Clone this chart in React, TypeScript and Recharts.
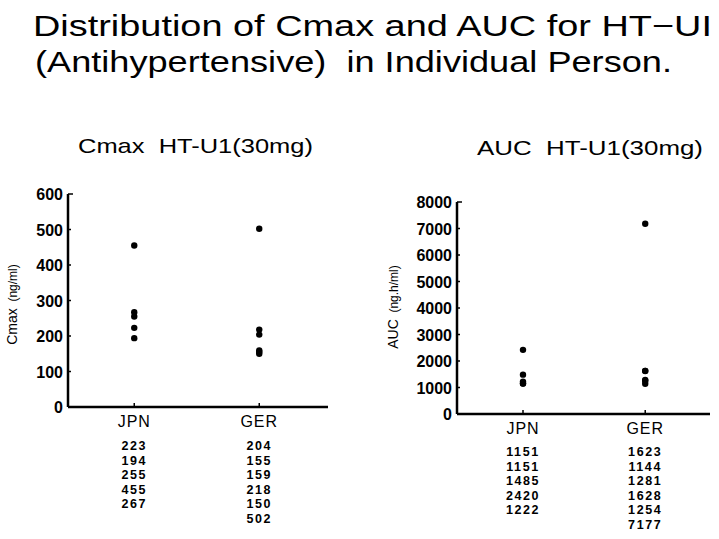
import React from "react"
import { ScatterChart, Scatter, XAxis, YAxis, Label } from "recharts"

const groups = ["JPN", "GER"]

const cmaxJPN = [223, 194, 255, 455, 267]
const cmaxGER = [204, 155, 159, 218, 150, 502]
const aucJPN = [1151, 1151, 1485, 2420, 1222]
const aucGER = [1623, 1144, 1281, 1628, 1254, 7177]

const cmaxTicks = [0, 100, 200, 300, 400, 500, 600]
const aucTicks = [0, 1000, 2000, 3000, 4000, 5000, 6000, 7000, 8000]

const titleLines = [
	"Distribution of Cmax and AUC for HT\u2212UI",
	"(Antihypertensive)  in Individual Person.",
]

const FONT = "'Liberation Sans', Arial, sans-serif"

const toPoints = (lists: number[][]) =>
	lists.flatMap((vals, g) => vals.map((v) => ({ g, v })))

// category name plus the listed values under it
const makeXTick = (lists: number[][], firstRow: number) => (props: any) => {
	const { x, y, payload } = props
	const g = payload.value
	if (g !== 0 && g !== 1) return null
	return (
		<g>
			<line x1={x} x2={x} y1={y - 4} y2={y} stroke='#000' strokeWidth={1.5} />
			<text
				x={x}
				y={y + 20}
				textAnchor='middle'
				fontSize={16}
				letterSpacing={1}
				fontFamily={FONT}
				fill='#000'>
				{groups[g]}
			</text>
			{lists[g].map((v, i) => (
				<text
					key={i}
					x={x}
					y={y + firstRow + i * 14.6}
					textAnchor='middle'
					fontSize={12.5}
					fontWeight='bold'
					letterSpacing={1.6}
					fontFamily={FONT}
					fill='#000'>
					{v}
				</text>
			))}
		</g>
	)
}

const makeYTick = (max: number) => (props: any) => {
	const { x, y, payload } = props
	return (
		<g>
			<line
				x1={x + 5}
				x2={x + (payload.value === max ? 10 : 8)}
				y1={y}
				y2={y}
				stroke='#000'
				strokeWidth={1.5}
			/>
			<text
				x={x}
				y={y + 6}
				textAnchor='end'
				fontSize={16}
				fontWeight='bold'
				fontFamily={FONT}
				fill='#000'>
				{payload.value}
			</text>
		</g>
	)
}

const makeYLabel = (main: string, unit: string, dx: number, dy: number) => (props: any) => {
	const { viewBox } = props
	const cx = viewBox.x + dx
	const cy = viewBox.y + viewBox.height / 2 + dy
	return (
		<text
			x={cx}
			y={cy}
			transform={`rotate(-90 ${cx} ${cy})`}
			textAnchor='middle'
			fontFamily={FONT}
			style={{ whiteSpace: "pre" }}
			fill='#000'>
			<tspan fontSize={14}>{main}</tspan>
			<tspan fontSize={12}>{"  " + unit}</tspan>
		</text>
	)
}

const dot = (p: any) => <circle cx={p.cx} cy={p.cy} r={3.2} fill='#000' />

const axisLine = { stroke: "#000", strokeWidth: 2.5 }

const App = () => {
	return (
		<div
			style={{
				position: "fixed",
				left: 0,
				top: 0,
				width: 719,
				height: 539,
				background: "#fff",
			}}>
			<div style={{ position: "absolute", left: 0, top: 0 }}>
				<ScatterChart
					width={340}
					height={539}
					margin={{ top: 194, right: 12, bottom: 0, left: 0 }}>
					<XAxis
						type='number'
						dataKey='g'
						domain={[-0.53, 1.55]}
						ticks={[0, 1]}
						height={132}
						axisLine={axisLine}
						tickLine={false}
						tickSize={0}
						tickMargin={0}
						tick={makeXTick([cmaxJPN, cmaxGER], 43)}
					/>
					<YAxis
						type='number'
						dataKey='v'
						domain={[0, 600]}
						ticks={cmaxTicks}
						width={68}
						axisLine={axisLine}
						tickLine={false}
						tickSize={0}
						tickMargin={5}
						tick={makeYTick(600)}>
						<Label content={makeYLabel("Cmax", "(ng/ml)", 17, 4)} />
					</YAxis>
					<Scatter
						data={toPoints([cmaxJPN, cmaxGER])}
						shape={dot}
						isAnimationActive={false}
					/>
				</ScatterChart>
			</div>
			<div style={{ position: "absolute", left: 360, top: 0 }}>
				<ScatterChart
					width={359}
					height={539}
					margin={{ top: 202, right: 9, bottom: 0, left: 0 }}>
					<XAxis
						type='number'
						dataKey='g'
						domain={[-0.54, 1.53]}
						ticks={[0, 1]}
						height={125}
						axisLine={axisLine}
						tickLine={false}
						tickSize={0}
						tickMargin={0}
						tick={makeXTick([aucJPN, aucGER], 42)}
					/>
					<YAxis
						type='number'
						dataKey='v'
						domain={[0, 8000]}
						ticks={aucTicks}
						width={97}
						axisLine={axisLine}
						tickLine={false}
						tickSize={0}
						tickMargin={5}
						tick={makeYTick(8000)}>
						<Label content={makeYLabel("AUC", "(ng.h/ml)", 38, -1)} />
					</YAxis>
					<Scatter
						data={toPoints([aucJPN, aucGER])}
						shape={dot}
						isAnimationActive={false}
					/>
				</ScatterChart>
			</div>
			<svg
				width={719}
				height={539}
				style={{ position: "absolute", left: 0, top: 0, pointerEvents: "none" }}>
				<text
					x={33}
					y={36}
					fontSize={30}
					fontFamily={FONT}
					textLength={679}
					lengthAdjust='spacingAndGlyphs'
					fill='#000'>
					{titleLines[0]}
				</text>
				<text
					x={35}
					y={72}
					fontSize={30}
					fontFamily={FONT}
					textLength={637}
					lengthAdjust='spacingAndGlyphs'
					style={{ whiteSpace: "pre" }}
					fill='#000'>
					{titleLines[1]}
				</text>
				<text
					x={78}
					y={153}
					fontSize={21}
					fontFamily={FONT}
					textLength={235}
					lengthAdjust='spacingAndGlyphs'
					style={{ whiteSpace: "pre" }}
					fill='#000'>
					{"Cmax  HT-U1(30mg)"}
				</text>
				<text
					x={477}
					y={155}
					fontSize={21}
					fontFamily={FONT}
					textLength={226}
					lengthAdjust='spacingAndGlyphs'
					style={{ whiteSpace: "pre" }}
					fill='#000'>
					{"AUC  HT-U1(30mg)"}
				</text>
			</svg>
		</div>
	)
}

export default App
